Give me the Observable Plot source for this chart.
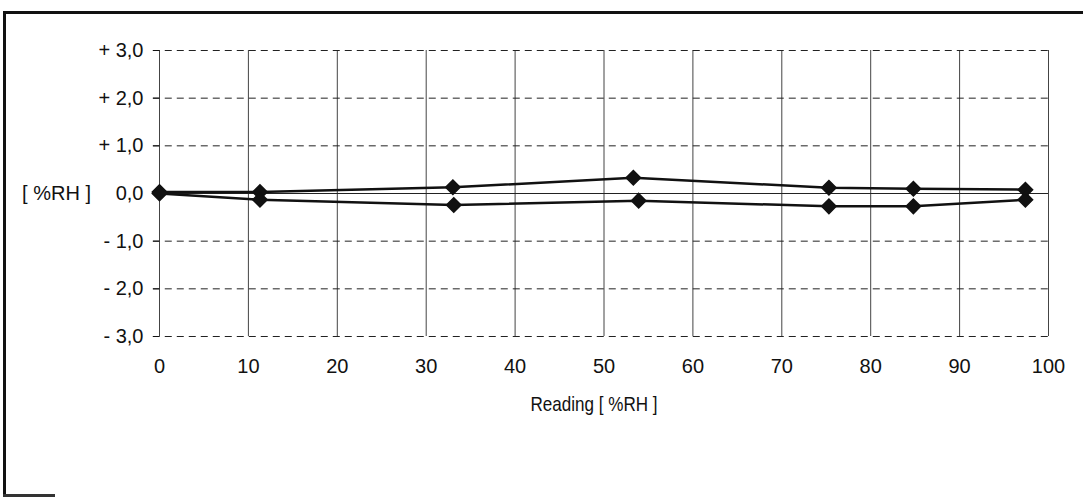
<!DOCTYPE html>
<html>
<head>
<meta charset="utf-8">
<script src="https://cdn.jsdelivr.net/npm/d3@7"></script>
<script src="https://cdn.jsdelivr.net/npm/@observablehq/plot@0.6"></script>
<style>
  html, body { margin: 0; padding: 0; background: #fff; }
  #chart { position: relative; width: 1083px; height: 497px; }
  #chart svg { position: absolute; left: 0; top: 0; }
  .frame-left { position: absolute; left: 3px; top: 11px; width: 3px; height: 486px; background: #111; }
  .frame-top { position: absolute; left: 3px; top: 11px; width: 1080px; height: 3px; background: #111; }
  .frame-bottom { position: absolute; left: 3px; top: 494px; width: 52px; height: 3px; background: #333; }
</style>
</head>
<body>
<div id="chart">
  <div class="frame-left"></div>
  <div class="frame-top"></div>
  <div class="frame-bottom"></div>
</div>
<script>
const readings = [0, 11.3, 33, 53.3, 75.3, 84.8, 97.4];
const upperSeries = [0.03, 0.03, 0.13, 0.33, 0.12, 0.10, 0.08];
const lowerSeries = [0.0, -0.13, -0.24, -0.15, -0.27, -0.27, -0.13];
const lowerReadings = [0, 11.3, 33.1, 53.9, 75.3, 84.8, 97.4];
const xTicks = [0, 10, 20, 30, 40, 50, 60, 70, 80, 90, 100];
const yTicks = [-3, -2, -1, 0, 1, 2, 3];
const yLabel = "[ %RH ]";
const xLabel = "Reading [ %RH ]";

const upper = readings.map((x, i) => ({x, y: upperSeries[i], s: "upper"}));
const lower = lowerReadings.map((x, i) => ({x, y: lowerSeries[i], s: "lower"}));
const all = upper.concat(lower);

const fmt = d => {
  const s = Math.abs(d).toFixed(1).replace(".", ",");
  return d > 0 ? "+ " + s : d < 0 ? "- " + s : s;
};

const chart = Plot.plot({
  width: 1083,
  height: 497,
  marginLeft: 159,
  marginRight: 35,
  marginTop: 50,
  marginBottom: 161,
  style: {fontFamily: "'Liberation Sans', Arial, sans-serif", fontSize: "20px", color: "#111", background: "transparent"},
  x: {domain: [0, 100], label: null},
  y: {domain: [-3, 3], label: null},
  marks: [
    Plot.gridX(xTicks, {stroke: "#444", strokeOpacity: 1, strokeWidth: 1}),
    Plot.gridY(yTicks.filter(d => d !== 0), {stroke: "#222", strokeOpacity: 1, strokeDasharray: "7,5", x1: -0.7, x2: 100}),
    Plot.ruleY([0], {stroke: "#222", strokeWidth: 1}),
    Plot.line(all, {x: "x", y: "y", z: "s", stroke: "#111", strokeWidth: 2.5}),
    Plot.dot(all, {x: "x", y: "y", symbol: d3.symbolDiamond2, r: 6.5, fill: "#111", stroke: "#111"}),
    Plot.axisX({ticks: xTicks, tickSize: 0, tickPadding: 22, label: null, fontSize: 20, fill: "#111"}),
    Plot.axisY({ticks: yTicks, tickSize: 6, tickPadding: 10, tickFormat: fmt, label: null, fontSize: 20, fill: "#111"}),
    Plot.text([yLabel], {frameAnchor: "left", dx: -103, textAnchor: "middle", fontSize: 20, fill: "#111"}),
    Plot.text([xLabel], {frameAnchor: "bottom", dx: -10, dy: 74, textAnchor: "middle", fontSize: 21, fill: "#111", className: "xlabel"})
  ]
});
document.getElementById("chart").appendChild(chart);
chart.querySelectorAll("text").forEach(t => {
  if (t.textContent === xLabel) {
    t.setAttribute("textLength", "127");
    t.setAttribute("lengthAdjust", "spacingAndGlyphs");
  }
});
</script>
</body>
</html>
